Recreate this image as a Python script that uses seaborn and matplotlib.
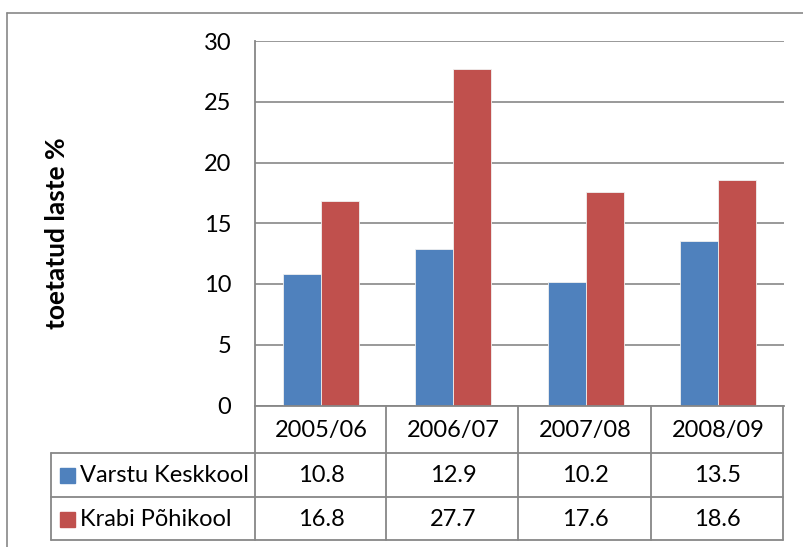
import matplotlib
matplotlib.use("Agg")
import matplotlib.pyplot as plt
from matplotlib.lines import Line2D
from matplotlib.patches import Rectangle
import matplotlib.transforms as mtransforms
import seaborn as sns
import pandas as pd

years = ["2005/06", "2006/07", "2007/08", "2008/09"]
schools = ["Varstu Keskkool", "Krabi Põhikool"]
varstu = [10.8, 12.9, 10.2, 13.5]
krabi = [16.8, 27.7, 17.6, 18.6]
y_ticks = [0, 5, 10, 15, 20, 25, 30]
y_label = "toetatud laste %"
colors = ["#4F81BD", "#C0504D"]

sns.set_theme(style="white")
plt.rcParams["font.family"] = ["Lato", "DejaVu Sans"]

W, H = 804, 547
fig = plt.figure(figsize=(W / 100, H / 100), dpi=100)

def fx(px):
    return px / W

def fy(py):
    return 1 - py / H

FS = 17
left, right, top, zero = 255, 784, 41, 405.5
ax = fig.add_axes([fx(left), fy(zero), fx(right - left), (zero - top) / H])

df = pd.DataFrame({
    "year": years * 2,
    "school": [schools[0]] * 4 + [schools[1]] * 4,
    "value": varstu + krabi,
})
sns.barplot(data=df, x="year", y="value", hue="school", palette=colors,
            width=0.575, legend=False, ax=ax, edgecolor="#f0f0f0", linewidth=0.6,
            saturation=1)

grid_c = "#878787"
ax.set_ylim(0, 30)
ax.set_xlim(-0.5, 3.5)
ax.set_yticks(y_ticks)
ax.set_yticklabels([str(t) for t in y_ticks], fontsize=FS, color="black")
ax.tick_params(axis="y", length=0, pad=17)
ax.set_xticks([])
ax.set_xlabel("")
ax.set_ylabel("")
ax.yaxis.grid(True, color=grid_c, linewidth=1.2)
ax.set_axisbelow(True)
for s in ["top", "right"]:
    ax.spines[s].set_visible(False)
for s in ["left", "bottom"]:
    ax.spines[s].set_color(grid_c)
    ax.spines[s].set_linewidth(1.3)

fig.text(fx(57), fy(233), y_label, rotation=90, ha="center", va="center",
         fontsize=19, fontweight="bold", color="black")

# outer chart frame (only top and left visible, cropped)
fig.add_artist(Line2D([fx(7.5), fx(810)], [fy(12.5), fy(12.5)], color=grid_c, lw=1.2,
                      transform=fig.transFigure))
fig.add_artist(Line2D([fx(7.5), fx(7.5)], [fy(12.5), fy(560)], color=grid_c, lw=1.2,
                      transform=fig.transFigure))

# data table
col_lines = [255, 386.5, 518, 651, 783.5]
row_lines = [405.5, 453, 497, 540]
tl_left = 51
lw = 1.3
for i, cx in enumerate(col_lines):
    fig.add_artist(Line2D([fx(cx), fx(cx)], [fy(405.5), fy(540)], color=grid_c, lw=lw,
                          transform=fig.transFigure))
fig.add_artist(Line2D([fx(tl_left), fx(tl_left)], [fy(453), fy(540)], color=grid_c, lw=lw,
                      transform=fig.transFigure))
for ry in row_lines[1:]:
    fig.add_artist(Line2D([fx(tl_left), fx(783.5)], [fy(ry), fy(ry)], color=grid_c, lw=lw,
                          transform=fig.transFigure))

blend = mtransforms.blended_transform_factory(ax.transData, fig.transFigure)
row_centers = [430, 475.5, 519]
for i, yr in enumerate(years):
    ax.text(i, fy(row_centers[0]), yr, transform=blend, ha="center", va="center",
            fontsize=FS, color="black", clip_on=False)
for r, (vals, name, c) in enumerate(zip([varstu, krabi], schools, colors)):
    cy = row_centers[r + 1]
    for i, v in enumerate(vals):
        ax.text(i, fy(cy), f"{v:.1f}", transform=blend, ha="center", va="center",
                fontsize=FS, color="black", clip_on=False)
    fig.add_artist(Rectangle((fx(60), fy(cy + 7.5)), fx(15), 15 / H, color=c,
                             transform=fig.transFigure))
    fig.text(fx(80), fy(cy), name, ha="left", va="center", fontsize=FS, color="black")

fig.savefig("out.png", dpi=100)
